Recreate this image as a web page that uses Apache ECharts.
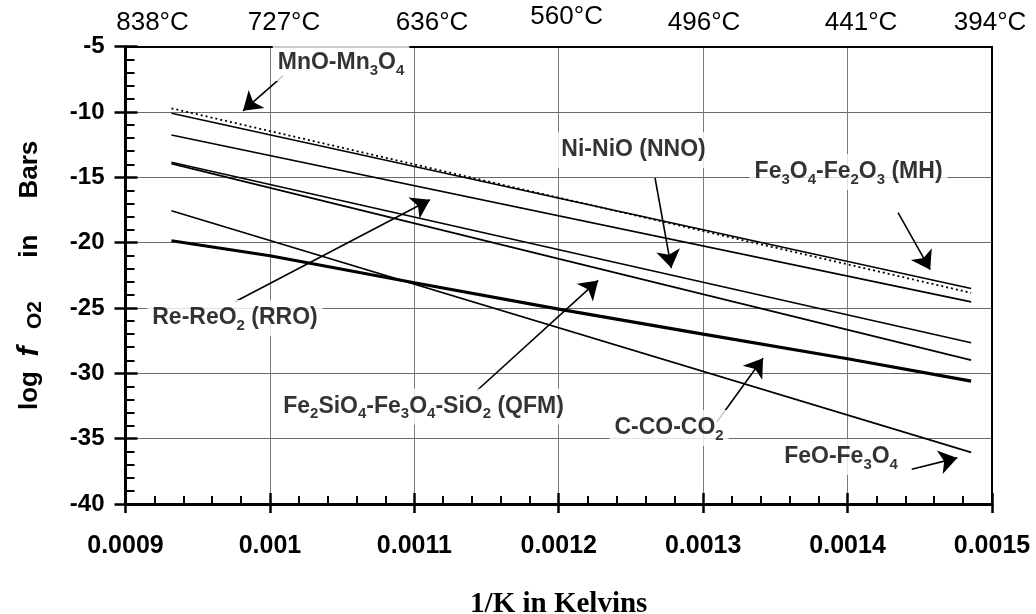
<!DOCTYPE html>
<html>
<head>
<meta charset="utf-8">
<script src="https://cdn.jsdelivr.net/npm/echarts@6/dist/echarts.min.js"></script>
<style>html,body{margin:0;padding:0;background:#fff;}#c{width:1036px;height:614px;}</style>
</head>
<body>
<div id="c"></div>
<script>
// ---- axes ----
const xMin = 0.0009, xMax = 0.0015, xInterval = 0.0001;
const yMin = -40, yMax = -5, yInterval = 5;
const xTickLabels = ['0.0009', '0.001', '0.0011', '0.0012', '0.0013', '0.0014', '0.0015'];
const tempLabels = ['838°C', '727°C', '636°C', '560°C', '496°C', '441°C', '394°C'];
const tempLabelPos = [0.0009187, 0.00100976, 0.00111225, 0.00120643, 0.00130061, 0.00140933, 0.00149867];

// ---- buffer curves (x = 1/K, y = log fO2) ----
const xEnds = [0.00093183, 0.00148555];
const mnoY = [-9.72, -23.84];
const mhY = [-10.10, -23.50];
const rroY = [-11.76, -24.53];
const nnoY = [-13.85, -27.66];
const qfmY = [-13.95, -28.99];
const feoY = [-17.56, -36.05];
const ccoX = [0.00093183, 0.0010, 0.0011, 0.0012, 0.0013, 0.0014, 0.00148555];
const ccoY = [-19.85, -21.0, -23.07, -25.08, -27.0, -28.88, -30.60];

// ---- annotations ----
const annotTexts = [
  'MnO-Mn{s|3}O{s|4}',
  'Ni-NiO (NNO)',
  'Fe{s|3}O{s|4}-Fe{s|2}O{s|3} (MH)',
  'Re-ReO{s|2} (RRO)',
  'Fe{s|2}SiO{s|4}-Fe{s|3}O{s|4}-SiO{s|2} (QFM)',
  'C-CO-CO{s|2}',
  'FeO-Fe{s|3}O{s|4}'
];
const annotX = [0.00104923, 0.00125179, 0.00140068, 0.00097583, 0.00110637, 0.00127637, 0.00139548];
const annotY = [-6.25, -12.91, -14.59, -25.76, -32.55, -34.18, -36.40];
const arrowFromX = [0.00100907, 0.00126668, 0.00143496, 0.00097583, 0.00114321, 0.00130961, 0.00144444];
const arrowFromY = [-7.24, -15.05, -17.70, -24.52, -31.33, -33.70, -37.34];
const arrowToX = [0.00098137, 0.00127797, 0.00145719, 0.0011108, 0.00122728, 0.00134147, 0.00147595];
const arrowToY = [-9.91, -21.94, -22.07, -16.71, -22.89, -28.84, -36.47];

const FONT = 'Liberation Sans, Arial, sans-serif';
const pairs = (xs, ys) => xs.map((x, i) => [x, ys[i]]);

const chart = echarts.init(document.getElementById('c'), null, {renderer: 'canvas'});

const lineSeries = (name, xs, ys, width, type) => ({
  name, type: 'line', data: pairs(xs, ys), symbol: 'none', smooth: false,
  lineStyle: {color: '#000', width: width, type: type || 'solid'}, z: 3, silent: true
});

const topRich = {
  n: {fontSize: 26, fontFamily: FONT, color: '#000', lineHeight: 28, verticalAlign: 'top'},
  sp: {fontSize: 10, lineHeight: 34, verticalAlign: 'top'}
};

const option = {
  animation: false,
  backgroundColor: '#fff',
  grid: {left: 125.5, right: 44, top: 46.7, bottom: 110, containLabel: false, outerBoundsMode: 'none'},
  xAxis: [
    {
      type: 'value', min: xMin, max: xMax, interval: xInterval, position: 'bottom',
      axisLine: {show: true, onZero: false, lineStyle: {color: '#000', width: 3}},
      axisTick: {show: true, inside: false, length: 9, lineStyle: {color: '#000', width: 2.5}},
      axisLabel: {
        show: true, margin: 30, fontSize: 25, fontWeight: 'bold', fontFamily: FONT, color: '#000',
        formatter: (v, i) => xTickLabels[i]
      },
      splitLine: {show: true, lineStyle: {color: '#7a7a7a', width: 1}},
      name: '1/K in Kelvins', nameLocation: 'middle', nameGap: 86,
      nameTextStyle: {fontFamily: 'Liberation Serif, Times New Roman, serif', fontWeight: 'bold', fontSize: 29, color: '#000'}
    },
    {
      type: 'value', min: xMin, max: xMax, interval: xInterval, position: 'bottom',
      axisLine: {show: false, onZero: false},
      axisTick: {show: true, inside: true, length: 11, lineStyle: {color: '#000', width: 2.5}},
      minorTick: {show: true, splitNumber: 5, length: 8, lineStyle: {color: '#000', width: 2}},
      axisLabel: {show: false}, splitLine: {show: false}
    },
    {
      type: 'value', min: xMin, max: xMax, position: 'top',
      axisLine: {show: true, onZero: false, lineStyle: {color: '#000', width: 2}},
      axisTick: {show: false},
      axisLabel: {
        show: true, margin: 9, customValues: tempLabelPos,
        formatter: (v, i) => {
          let idx = tempLabelPos.findIndex(p => Math.abs(p - v) < 1e-7);
          if (idx < 0) idx = i;
          const t = tempLabels[idx];
          return idx === 3 ? '{n|' + t + '}{sp| }' : '{n|' + t + '}';
        },
        rich: topRich
      },
      splitLine: {show: false}
    }
  ],
  yAxis: [
    {
      type: 'value', min: yMin, max: yMax, interval: yInterval, position: 'left',
      axisLine: {show: true, onZero: false, lineStyle: {color: '#000', width: 3}},
      axisTick: {show: true, inside: false, length: 11, lineStyle: {color: '#000', width: 2.5}},
      axisLabel: {show: true, margin: 21, fontSize: 24, fontWeight: 'bold', fontFamily: FONT, color: '#000'},
      splitLine: {show: true, lineStyle: {color: '#6a6a6a', width: 1}},
      name: 'log  {i|f}{g|   }{s|O2}      in     Bars', nameLocation: 'middle', nameGap: 80, nameRotate: 90,
      nameTextStyle: {
        fontFamily: FONT, fontWeight: 'bold', fontSize: 26, color: '#000', lineHeight: 32,
        rich: {
          i: {fontFamily: 'Liberation Sans', fontWeight: 'bold', fontStyle: 'italic', fontSize: 30, color: '#000', lineHeight: 32},
          g: {fontFamily: FONT, fontSize: 21, lineHeight: 18},
          s: {fontFamily: FONT, fontWeight: 'bold', fontSize: 21, color: '#000', verticalAlign: 'bottom', lineHeight: 20}
        }
      }
    },
    {
      type: 'value', min: yMin, max: yMax, interval: yInterval, position: 'left',
      axisLine: {show: false, onZero: false},
      axisTick: {show: true, inside: true, length: 12, lineStyle: {color: '#000', width: 2.5}},
      minorTick: {show: true, splitNumber: 5, length: 9, lineStyle: {color: '#000', width: 2}},
      axisLabel: {show: false}, splitLine: {show: false}
    },
    {
      type: 'value', min: yMin, max: yMax, interval: yInterval, position: 'right',
      axisLine: {show: true, onZero: false, lineStyle: {color: '#000', width: 2}},
      axisTick: {show: false}, axisLabel: {show: false}, splitLine: {show: false}
    }
  ],
  series: [
    lineSeries('MnO-Mn3O4', xEnds, mnoY, 1.8, [2, 3]),
    lineSeries('MH', xEnds, mhY, 1.6),
    lineSeries('RRO', xEnds, rroY, 1.6),
    lineSeries('NNO', xEnds, nnoY, 1.6),
    lineSeries('QFM', xEnds, qfmY, 1.6),
    lineSeries('FeO-Fe3O4', xEnds, feoY, 1.6),
    lineSeries('C-CO-CO2', ccoX, ccoY, 3.2),
    {
      name: 'labels', type: 'scatter', silent: true, z: 5,
      symbol: 'circle', symbolSize: 0, itemStyle: {color: '#000'},
      data: annotTexts.map((t, i) => ({value: [annotX[i], annotY[i]], label: {formatter: t}})),
      label: {
        show: true, position: 'inside', color: '#000', fontFamily: FONT, fontWeight: 'bold', fontSize: 23,
        lineHeight: 30, backgroundColor: '#fff', padding: [3, 5],
        rich: {s: {fontFamily: FONT, fontWeight: 'bold', fontSize: 15, color: '#000', verticalAlign: 'bottom', lineHeight: 16}}
      },
      markLine: {
        silent: true, animation: false,
        symbol: ['none', 'arrow'], symbolSize: 18,
        label: {show: false},
        itemStyle: {color: '#000'},
        lineStyle: {color: '#000', width: 1.6, type: 'solid', opacity: 1},
        emphasis: {disabled: true},
        data: arrowFromX.map((x, i) => [
          {coord: [x, arrowFromY[i]]},
          {coord: [arrowToX[i], arrowToY[i]]}
        ])
      }
    }
  ]
};
chart.setOption(option);
</script>
</body>
</html>
